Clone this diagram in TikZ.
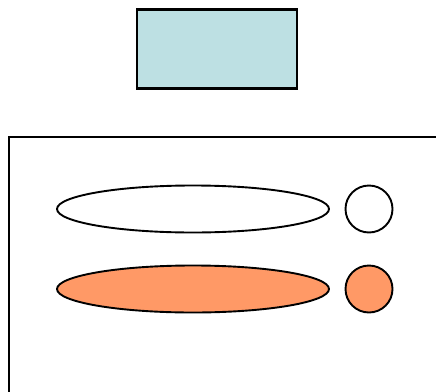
\documentclass[tikz,border=0pt]{standalone}
\usetikzlibrary{shapes.geometric}
\definecolor{boxblue}{HTML}{BDE0E3}
\definecolor{pinkorange}{HTML}{FF9966}
\tikzset{
  shp/.style={draw=black, line width=1.9pt, inner sep=0pt, outer sep=0pt},
  longoval/.style={shp, ellipse, minimum width=272pt, minimum height=47pt},
  roundel/.style={shp, circle, minimum size=47pt},
  panel/.style={draw=black, line width=2.2pt}
}
\begin{document}
\begin{tikzpicture}[x=1pt,y=-1pt]
\useasboundingbox (0,0) rectangle (436,391);
\clip (0,0) rectangle (436,391);
\node[panel, fill=boxblue, minimum width=160pt, minimum height=79pt, inner sep=0pt, outer sep=0pt] (top) at (217,49) {};
\draw[panel] (9,137) rectangle (446,401);
\node[longoval, fill=white] (e1) at (193,209) {};
\node[roundel, fill=white] (c1) at (369,209) {};
\node[longoval, fill=pinkorange] (e2) at (193,289) {};
\node[roundel, fill=pinkorange] (c2) at (369,289) {};
\end{tikzpicture}
\end{document}
